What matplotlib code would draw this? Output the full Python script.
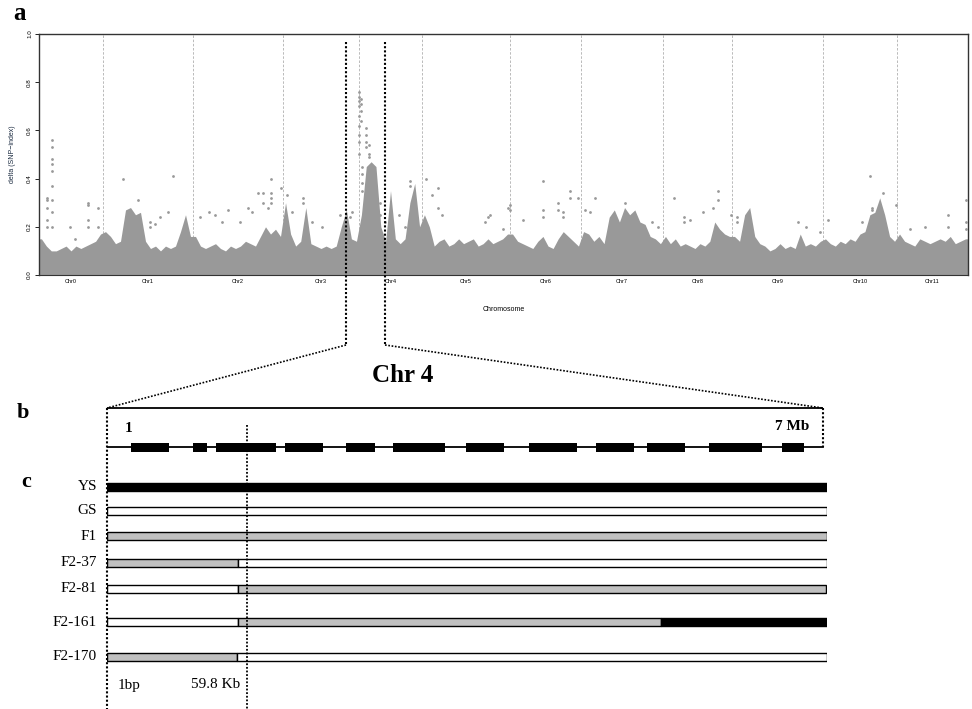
import numpy as np
import matplotlib
matplotlib.use("Agg")
import matplotlib.pyplot as plt
from matplotlib.patches import Rectangle

# ---------------- panel a data ----------------
chromosomes = ["Chr0", "Chr1", "Chr2", "Chr3", "Chr4", "Chr5",
               "Chr6", "Chr7", "Chr8", "Chr9", "Chr10", "Chr11"]
chrom_lengths = [64, 90, 90, 76, 63, 88, 71, 82, 69, 91, 74, 71]

# upper edge of the dense delta(SNP-index) cloud, evenly spaced bins per chromosome
band_chr0 = [0.15, 0.12, 0.10, 0.10, 0.11, 0.12, 0.10, 0.12, 0.11, 0.12, 0.13, 0.14, 0.17]
band_chr1 = [0.18, 0.16, 0.13, 0.14, 0.27, 0.28, 0.25, 0.26, 0.14, 0.11, 0.12, 0.10, 0.12,
             0.11, 0.12, 0.18, 0.25, 0.16]
band_chr2 = [0.16, 0.12, 0.11, 0.12, 0.13, 0.11, 0.10, 0.12, 0.11, 0.12, 0.14, 0.13, 0.12,
             0.16, 0.20, 0.17, 0.19, 0.16]
band_chr3 = [0.30, 0.17, 0.12, 0.14, 0.28, 0.13, 0.12, 0.11, 0.12, 0.11, 0.12, 0.20, 0.27,
             0.15, 0.14]
band_chr4 = [0.25, 0.45, 0.47, 0.45, 0.20, 0.14, 0.35, 0.15, 0.13, 0.15, 0.30, 0.38, 0.20]
band_chr5 = [0.25, 0.20, 0.12, 0.14, 0.15, 0.12, 0.13, 0.15, 0.13, 0.14, 0.15, 0.12, 0.13,
             0.15, 0.13, 0.14, 0.15, 0.17]
band_chr6 = [0.17, 0.14, 0.13, 0.12, 0.11, 0.14, 0.16, 0.12, 0.11, 0.15, 0.18, 0.16, 0.14, 0.12]
band_chr7 = [0.18, 0.17, 0.14, 0.16, 0.13, 0.24, 0.27, 0.22, 0.28, 0.25, 0.27, 0.22, 0.21,
             0.16, 0.15, 0.13]
band_chr8 = [0.16, 0.13, 0.15, 0.12, 0.13, 0.12, 0.11, 0.13, 0.12, 0.14, 0.22, 0.19, 0.17, 0.16]
band_chr9 = [0.16, 0.14, 0.25, 0.28, 0.16, 0.13, 0.12, 0.10, 0.11, 0.13, 0.11, 0.12, 0.11,
             0.17, 0.12, 0.13, 0.12, 0.14]
band_chr10 = [0.15, 0.13, 0.12, 0.14, 0.13, 0.15, 0.14, 0.17, 0.18, 0.25, 0.26, 0.32, 0.25,
              0.16, 0.14]
band_chr11 = [0.17, 0.14, 0.13, 0.12, 0.15, 0.14, 0.13, 0.14, 0.15, 0.14, 0.16, 0.13, 0.14, 0.15]
bands = [band_chr0, band_chr1, band_chr2, band_chr3, band_chr4, band_chr5,
         band_chr6, band_chr7, band_chr8, band_chr9, band_chr10, band_chr11]

# isolated SNP-index points above the cloud (genome position, delta)
outlier_pos = [13, 13, 13, 13, 13, 13, 13, 13, 13, 8, 8, 8, 8, 8, 49, 49, 49, 49, 59, 59, 31, 36,
               84, 99, 134, 129, 111, 111, 116, 121,
               161, 170, 176, 183, 189, 201, 209, 213, 219, 224, 224, 232, 232, 232, 232, 229, 242,
               248, 264, 264, 253, 273, 283, 301, 311, 313,
               320.5, 320.5, 320.5, 320.5, 320.5, 320.5, 320.5, 320.5, 320.5,
               322, 322, 322, 322, 327, 327, 327, 327, 330, 330, 330, 323, 323, 323, 323,
               341, 341, 346, 360, 366, 371, 371, 387, 393, 399, 399, 403,
               446, 449, 451, 464, 469,
               471, 471, 484, 504, 504, 504, 519, 519, 524, 524, 531, 531, 539,
               546, 551, 556, 586, 613, 619,
               635, 645, 645, 651, 664, 674, 679, 679, 692,
               698, 698, 759, 767, 781,
               789, 823, 831, 833, 833, 844, 857,
               871, 886, 909, 909, 927, 927, 927]
outlier_val = [0.56, 0.53, 0.48, 0.46, 0.43, 0.37, 0.31, 0.26, 0.20, 0.32, 0.31, 0.28, 0.23, 0.20,
               0.30, 0.29, 0.23, 0.20, 0.28, 0.20, 0.20, 0.15,
               0.40, 0.31, 0.41, 0.26, 0.22, 0.20, 0.21, 0.24,
               0.24, 0.26, 0.25, 0.22, 0.27, 0.22, 0.28, 0.26, 0.34, 0.34, 0.30, 0.40, 0.34, 0.32,
               0.30, 0.28, 0.36,
               0.33, 0.32, 0.30, 0.26, 0.22, 0.20, 0.25, 0.24, 0.26,
               0.76, 0.74, 0.72, 0.70, 0.66, 0.62, 0.58, 0.55, 0.50,
               0.73, 0.71, 0.68, 0.64, 0.61, 0.58, 0.55, 0.53, 0.54, 0.50, 0.49, 0.45, 0.42, 0.38, 0.35,
               0.30, 0.25, 0.22, 0.25, 0.20, 0.39, 0.37, 0.40, 0.33, 0.36, 0.28, 0.25,
               0.22, 0.24, 0.25, 0.19, 0.28,
               0.29, 0.27, 0.23, 0.39, 0.27, 0.24, 0.30, 0.27, 0.26, 0.24, 0.35, 0.32, 0.32,
               0.27, 0.26, 0.32, 0.30, 0.22, 0.20,
               0.32, 0.24, 0.22, 0.23, 0.26, 0.28, 0.35, 0.31, 0.25,
               0.24, 0.22, 0.22, 0.20, 0.18,
               0.23, 0.22, 0.41, 0.28, 0.27, 0.34, 0.29,
               0.19, 0.20, 0.25, 0.20, 0.31, 0.22, 0.19]

zoom_region = [307, 346]          # genome positions of the Chr 4 window

# ---------------- panel b data ----------------
region_start_label = "1"
region_end_label = "7 Mb"
gene_starts = [3.3, 11.9, 15.1, 24.7, 33.2, 39.7, 49.9, 58.6, 67.9, 75.0, 83.6, 93.75]
gene_ends = [8.6, 13.9, 23.5, 30.0, 37.2, 46.9, 55.1, 65.3, 73.2, 80.3, 91.0, 96.8]
region_end = 99.4

# ---------------- panel c data ----------------
lines = ["YS", "GS", "F1", "F2-37", "F2-81", "F2-161", "F2-170"]
segments = {
    "YS": [(0, 100, "Y")],
    "GS": [(0, 100, "G")],
    "F1": [(0, 100, "H")],
    "F2-37": [(0, 18.2, "H"), (18.2, 100, "G")],
    "F2-81": [(0, 18.2, "G"), (18.2, 99.9, "H")],
    "F2-161": [(0, 18.2, "G"), (18.2, 76.9, "H"), (76.9, 100, "Y")],
    "F2-170": [(0, 18.0, "H"), (18.0, 100, "G")],
}
marker_labels = ["1bp", "59.8 Kb"]
marker_label_pos = [1.5, 15.1]
marker_line_pos = 19.4

# ---------------- styling / layout ----------------
W, H = 972, 709
geno_colors = {"Y": "black", "G": "white", "H": "#c0c0c0"}
row_y = [487, 511, 536, 563, 589, 622, 657]
bar_h = 8
serif = ["Liberation Serif", "DejaVu Serif"]
sans = ["Liberation Sans", "DejaVu Sans"]
dot_style = (0, (1, 1))
pt_color = "#999999"

fig = plt.figure(figsize=(W / 100, H / 100), dpi=100)

# ---------- panel a ----------
ax = fig.add_axes([39 / W, (H - 275) / H, 929 / W, 241 / H])
starts = np.concatenate([[0], np.cumsum(chrom_lengths)[:-1]])
xs, ys = [], []
for s, L, b in zip(starts, chrom_lengths, bands):
    n = len(b)
    xs.extend(s + (np.arange(n) + 0.5) * L / n)
    ys.extend(b)
xs = np.array([0] + xs + [sum(chrom_lengths)])
ys = np.array([ys[0]] + ys + [ys[-1]])
ax.fill_between(xs, 0, ys, color=pt_color, lw=0, zorder=2)
ax.scatter(outlier_pos, outlier_val, s=4, color=pt_color, lw=0, zorder=3)
for s in starts[1:]:
    ax.axvline(s, color="#b0b0b0", ls=(0, (3, 2)), lw=0.6, zorder=1)
ax.set_xlim(0, sum(chrom_lengths))
ax.set_ylim(0, 1)
ax.set_xticks(starts + np.array(chrom_lengths) / 2)
ax.set_xticklabels(chromosomes, fontsize=4, family=sans)
ax.tick_params(axis="x", length=0, pad=3)
ax.set_yticks([0, 0.2, 0.4, 0.6, 0.8, 1.0])
ax.set_yticklabels(["0.0", "0.2", "0.4", "0.6", "0.8", "1.0"], rotation=90,
                   va="center", fontsize=4.5, family=sans)
ax.tick_params(axis="y", length=3, width=0.6, pad=2)
ax.set_ylabel("delta (SNP\u2212index)", fontsize=5, family=sans, labelpad=8, color="#1a2a40")
ax.set_xlabel("Chromosome", fontsize=5, family=sans, labelpad=16)
for sp in ax.spines.values():
    sp.set_linewidth(1.0)
    sp.set_color("#333333")
ax.spines["bottom"].set_linewidth(0.8)

# ---------- panels b & c ----------
axb = fig.add_axes([107 / W, 0, 720 / W, 329 / H])
axb.set_xlim(0, 100)
axb.set_ylim(709, 380)
axb.axis("off")
# box of region
axb.plot([0, region_end], [408, 408], color="black", lw=1.3, solid_capstyle="butt")
axb.plot([0, 0], [408, 709], color="black", lw=1.5, ls=dot_style, clip_on=False)
axb.plot([region_end, region_end], [408, 447], color="black", lw=1.5, ls=dot_style)
axb.plot([0, region_end], [447, 447], color="black", lw=1.3)
for gs, ge in zip(gene_starts, gene_ends):
    axb.add_patch(Rectangle((gs, 442.5), ge - gs, 9, facecolor="black", edgecolor="none"))
axb.text(3.05, 428, region_start_label, fontsize=11, family=serif, weight="bold",
         ha="center", va="center")
axb.text(95.1, 427, region_end_label, fontsize=11, family=serif, weight="bold",
         ha="center", va="center")
axb.plot([marker_line_pos, marker_line_pos], [425, 709], color="black", lw=1.3,
         ls=dot_style, clip_on=False)
for name, y in zip(lines, row_y):
    for a, b, g in segments[name]:
        axb.add_patch(Rectangle((a, y - bar_h / 2), b - a, bar_h, facecolor=geno_colors[g],
                                edgecolor="black", lw=1.0))
    axb.text(-1.4, y, name, fontsize=11, family=serif, ha="right", va="center")
for lab, p in zip(marker_labels, marker_label_pos):
    axb.text(p, 685, lab, fontsize=11, family=serif,
             ha="left" if lab == "1bp" else "center", va="center")

# ---------- overlay: zoom connectors and panel letters ----------
ov = fig.add_axes([0, 0, 1, 1])
ov.set_xlim(0, W)
ov.set_ylim(H, 0)
ov.axis("off")
ov.patch.set_visible(False)


def to_ov(a, x, y):
    return ov.transData.inverted().transform(a.transData.transform((x, y)))


corner_l = to_ov(axb, 0, 408)
corner_r = to_ov(axb, region_end, 408)
for zx, corner in zip(zoom_region, [corner_l, corner_r]):
    top = to_ov(ax, zx, 0.967)
    ov.plot([top[0], top[0]], [top[1], 345], color="black", lw=1.5, ls=dot_style)
    ov.plot([top[0], corner[0]], [345, corner[1]], color="black", lw=1.2, ls=dot_style)

fig.text(403 / W, 1 - 376 / H, "Chr 4", fontsize=18, family=serif, weight="bold",
         ha="center", va="center")
fig.text(19 / W, 1 - 14 / H, "a", fontsize=18, family=serif, weight="bold",
         ha="center", va="center")
fig.text(23 / W, 1 - 413 / H, "b", fontsize=16, family=serif, weight="bold",
         ha="center", va="center")
fig.text(26 / W, 1 - 482 / H, "c", fontsize=16, family=serif, weight="bold",
         ha="center", va="center")

fig.savefig("out.png", dpi=100)
